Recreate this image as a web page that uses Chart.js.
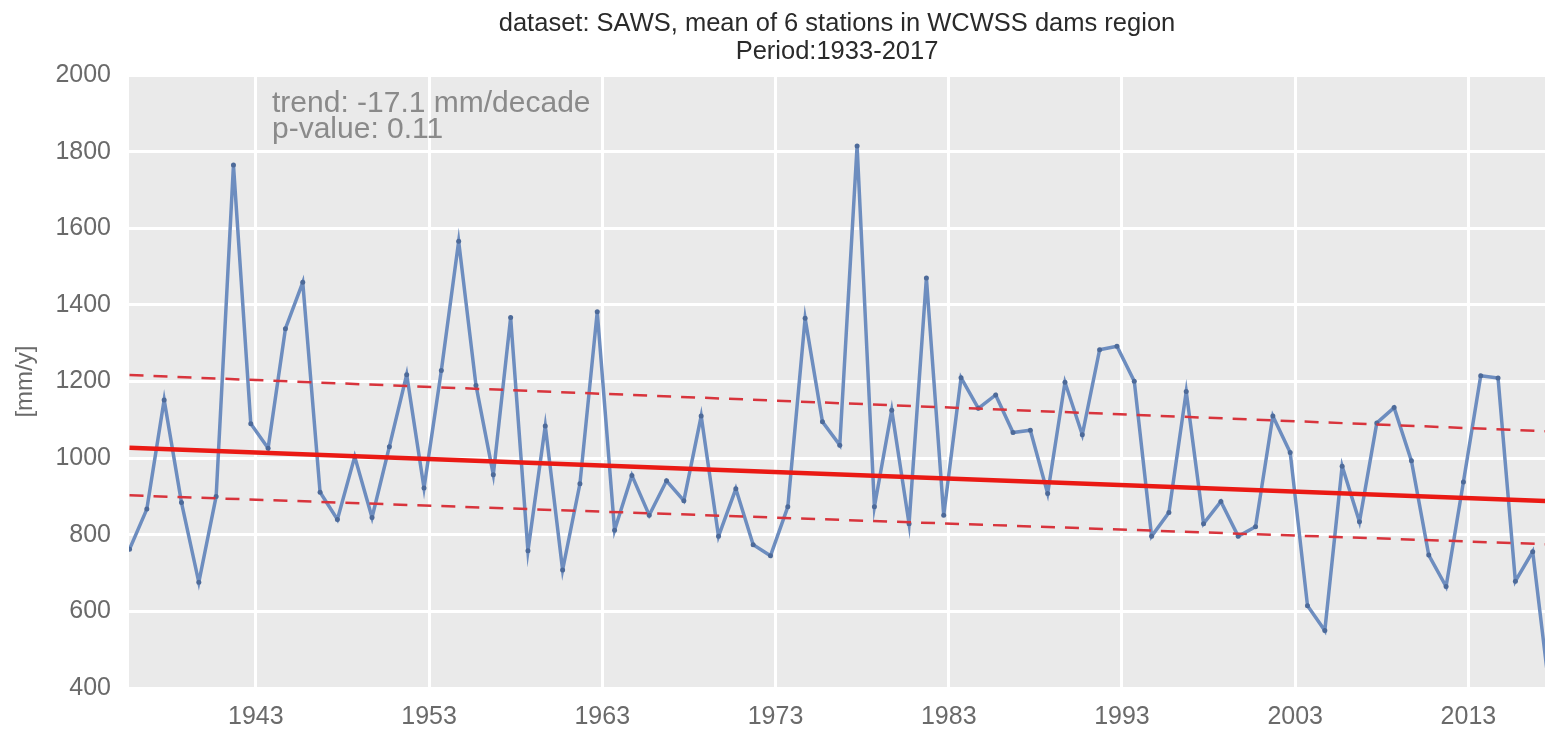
<!DOCTYPE html>
<html>
<head>
<meta charset="utf-8">
<title>SAWS rainfall WCWSS dams region</title>
<script src="https://cdn.jsdelivr.net/npm/chart.js@4.4.0/dist/chart.umd.min.js"></script>
<style>
    html, body { margin: 0; padding: 0; background: #ffffff; }
    #wrap { width: 1545px; height: 734px; }
</style>
</head>
<body>
<div id="wrap"><canvas id="rain-chart" width="1545" height="734"></canvas></div>
<script>
// Annual rainfall, mean of 6 SAWS stations
const years = [];
for (let y = 1935; y <= 2017; y++) years.push(y);

const rainfall = [
    762, 867, 1152, 884, 676, 900, 1765, 1090, 1026, 1338,
    1459, 911, 840, 1004, 845, 1030, 1218, 922, 1229, 1566,
    1190, 957, 1367, 758, 1084, 708, 933, 1382, 812, 955,
    851, 941, 889, 1110, 796, 920, 774, 745, 873, 1365,
    1095, 1034, 1815, 873, 1125, 829, 1470, 851, 1210, 1130,
    1165, 1067, 1073, 908, 1198, 1061, 1283, 1292, 1201, 796,
    858, 1174, 829, 887, 796, 821, 1110, 1015, 615, 550,
    979, 834, 1092, 1132, 993, 747, 665, 938, 1215, 1209,
    679, 756, 380
];

// trend line and its band, start/end values
const trendYears = [1935, 2017];
const trendValues = [1027, 888];
const upperValues = [1217, 1070];
const lowerValues = [903, 775];

const xTickYears = [1943, 1953, 1963, 1973, 1983, 1993, 2003, 2013];
const yTicks = [400, 600, 800, 1000, 1200, 1400, 1600, 1800, 2000];

const titleLines = ['dataset: SAWS, mean of 6 stations in WCWSS dams region', 'Period:1933-2017'];
const noteLines = ['trend: -17.1 mm/decade', 'p-value: 0.11'];

// points sit a bit after the year gridline in the original plot
const X_SHIFT = 0.71;
const FONT = '"Liberation Sans", Arial, sans-serif';

function toPoints(xs, ys) {
    return xs.map((x, i) => ({ x: x + X_SHIFT, y: ys[i] }));
}

const plotBackground = {
    id: 'plotBackground',
    beforeDraw(chart) {
        const { ctx, chartArea } = chart;
        ctx.save();
        ctx.fillStyle = '#eaeaea';
        ctx.fillRect(chartArea.left, chartArea.top, chartArea.right - chartArea.left, chartArea.bottom - chartArea.top);
        ctx.restore();
    }
};

const trendNote = {
    id: 'trendNote',
    afterDraw(chart) {
        const { ctx } = chart;
        ctx.save();
        ctx.font = '30px ' + FONT;
        ctx.fillStyle = '#8a8a8a';
        ctx.textAlign = 'left';
        ctx.textBaseline = 'alphabetic';
        ctx.fillText(noteLines[0], 272, 112);
        ctx.fillText(noteLines[1], 272, 138);
        ctx.restore();
    }
};

const ctx = document.getElementById('rain-chart').getContext('2d');

new Chart(ctx, {
    type: 'line',
    data: {
        datasets: [
            {
                label: 'trend',
                data: toPoints(trendYears, trendValues),
                borderColor: '#ea1a14',
                borderWidth: 4.5,
                pointRadius: 0,
                order: 0
            },
            {
                label: 'upper',
                data: toPoints(trendYears, upperValues),
                borderColor: '#d8343c',
                borderWidth: 2.5,
                borderDash: [14, 10],
                pointRadius: 0,
                order: 1
            },
            {
                label: 'lower',
                data: toPoints(trendYears, lowerValues),
                borderColor: '#d8343c',
                borderWidth: 2.5,
                borderDash: [14, 10],
                pointRadius: 0,
                order: 1
            },
            {
                label: 'rainfall',
                data: toPoints(years, rainfall),
                borderColor: '#6d8dbf',
                borderWidth: 3.5,
                pointRadius: 2.5,
                pointBackgroundColor: '#4d6a99',
                pointBorderWidth: 0,
                tension: 0,
                order: 2
            }
        ]
    },
    options: {
        responsive: false,
        animation: false,
        layout: { padding: 0, autoPadding: false },
        plugins: {
            legend: { display: false },
            tooltip: { enabled: false },
            title: {
                display: true,
                text: titleLines,
                fullSize: false,
                color: '#2a2a2a',
                font: { family: FONT, size: 25.5, weight: 'normal', lineHeight: 1.1 },
                padding: { top: 10, bottom: 9 }
            }
        },
        scales: {
            x: {
                type: 'linear',
                min: 1935.68,
                max: 2017.42,
                afterBuildTicks: function(scale) {
                    scale.ticks = xTickYears.map(v => ({ value: v }));
                },
                afterFit: function(scale) {
                    scale.height = 46;
                },
                grid: { color: '#ffffff', lineWidth: 3, drawTicks: false },
                border: { display: false },
                ticks: {
                    color: '#6a6a6a',
                    font: { family: FONT, size: 25 },
                    padding: 14,
                    maxRotation: 0,
                    autoSkip: false,
                    callback: v => String(v)
                }
            },
            y: {
                min: 400,
                max: 2000,
                afterBuildTicks: function(scale) {
                    scale.ticks = yTicks.map(v => ({ value: v }));
                },
                afterFit: function(scale) {
                    scale.width = 129;
                },
                grid: { color: '#ffffff', lineWidth: 3, drawTicks: false },
                border: { display: false },
                title: {
                    display: true,
                    text: '[mm/y]',
                    color: '#6a6a6a',
                    font: { family: FONT, size: 24 },
                    padding: { top: 11, bottom: 0 }
                },
                ticks: {
                    color: '#6a6a6a',
                    font: { family: FONT, size: 25 },
                    padding: 18,
                    callback: v => String(v)
                }
            }
        }
    },
    plugins: [plotBackground, trendNote]
});
</script>
</body>
</html>
